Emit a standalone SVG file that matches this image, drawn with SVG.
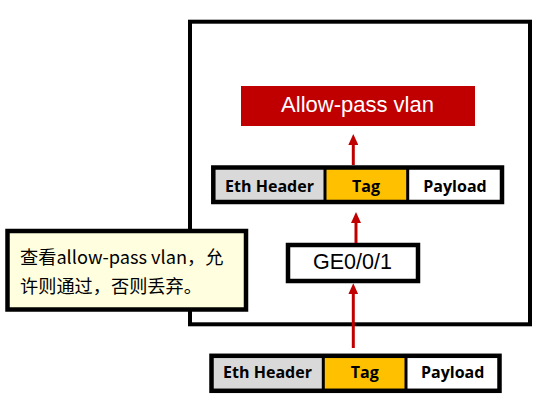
<svg xmlns="http://www.w3.org/2000/svg" width="556" height="416" viewBox="0 0 556 416">
<defs>
<style>
.frame{fill:none;stroke:#000;stroke-width:4.5}
.div{stroke:#000;stroke-width:3}
.cell{font-family:"Open Sans","Liberation Sans",sans-serif;font-weight:bold;font-size:16px;fill:#000;text-anchor:middle}
.conn{stroke:#C00000;stroke-width:3;fill:none}
</style>
<marker id="ah" viewBox="0 0 11 10" refX="3" refY="5" markerWidth="11" markerHeight="10" markerUnits="userSpaceOnUse" orient="auto">
<path d="M0,0 L11,5 L0,10 z" fill="#C00000"/>
</marker>
</defs>
<rect width="556" height="416" fill="#fff"/>
<g id="switch">
<rect x="190" y="21.7" width="340" height="302.6" fill="#fff" stroke="#000" stroke-width="4"/>
</g>
<g id="allow-pass">
<rect x="241" y="86" width="234" height="40" fill="#C00000"/>
<text x="357.5" y="112" font-family="Liberation Sans, Arial, sans-serif" font-size="22" fill="#fff" text-anchor="middle">Allow-pass vlan</text>
</g>
<g id="frame-inner">
<rect x="213.3" y="167.5" width="111.7" height="34.5" fill="#D9D9D9"/>
<rect x="325" y="167.5" width="82.7" height="34.5" fill="#FFC000"/>
<rect x="407.7" y="167.5" width="94.3" height="34.5" fill="#fff"/>
<rect x="213.3" y="167.5" width="288.7" height="34.5" class="frame"/>
<line x1="325" y1="167.5" x2="325" y2="202" class="div"/>
<line x1="407.7" y1="167.5" x2="407.7" y2="202" class="div"/>
<text x="269.5" y="191.5" class="cell">Eth Header</text>
<text x="366" y="191.5" class="cell">Tag</text>
<text x="455" y="191.5" class="cell">Payload</text>
</g>
<g id="port">
<rect x="288" y="245" width="130" height="36" fill="#fff" stroke="#000" stroke-width="4.5"/>
<text x="352.5" y="269" font-family="Liberation Sans, Arial, sans-serif" font-size="21.5" fill="#000" text-anchor="middle">GE0/0/1</text>
</g>
<g id="frame-outer">
<rect x="211.5" y="355.8" width="112" height="35" fill="#D9D9D9"/>
<rect x="323.3" y="355.8" width="82.7" height="35" fill="#FFC000"/>
<rect x="406" y="355.8" width="93.5" height="35" fill="#fff"/>
<rect x="211.5" y="355.8" width="288" height="35" class="frame"/>
<line x1="323.3" y1="355.8" x2="323.3" y2="390.8" class="div"/>
<line x1="406" y1="355.8" x2="406" y2="390.8" class="div"/>
<text x="267.5" y="377.5" class="cell">Eth Header</text>
<text x="364.7" y="377.5" class="cell">Tag</text>
<text x="452.7" y="377.5" class="cell">Payload</text>
</g>
<g id="note">
<rect x="7.5" y="231" width="238.5" height="78.5" fill="#FFFFE0" stroke="#000" stroke-width="4.5"/>
<text font-family="Noto Sans CJK SC, sans-serif" font-size="18.2" fill="#000">
<tspan x="20" y="264">查看allow-pass vlan，允</tspan>
<tspan x="20" y="292.5">许则通过，否则丢弃。</tspan>
</text>
</g>
<g id="connectors">
<line x1="353.3" y1="165" x2="353.3" y2="142" class="conn" marker-end="url(#ah)"/>
<line x1="356" y1="243" x2="356" y2="220" class="conn" marker-end="url(#ah)"/>
<line x1="353.3" y1="348" x2="353.3" y2="291.3" class="conn" marker-end="url(#ah)"/>
</g>
</svg>
